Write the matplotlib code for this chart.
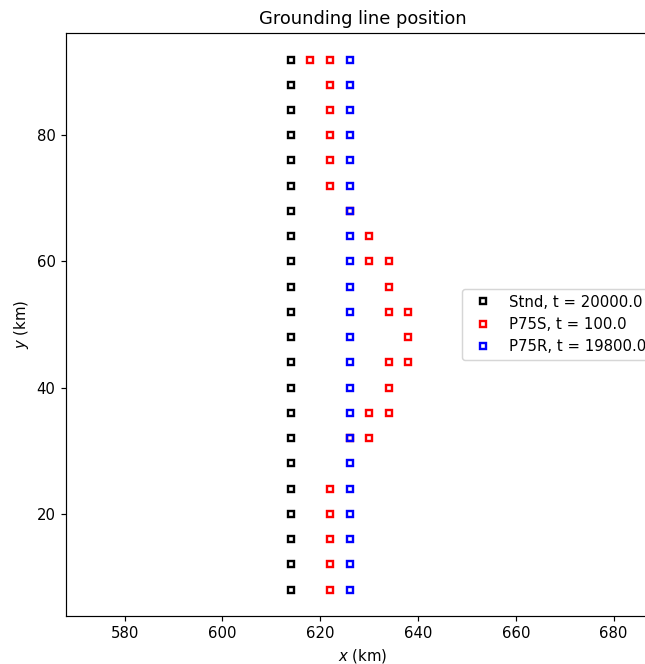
import matplotlib
matplotlib.use('Agg')
import matplotlib.pyplot as plt

# Grounding line points (km)
stnd_y = [92, 88, 84, 80, 76, 72, 68, 64, 60, 56, 52, 48, 44, 40, 36, 32, 28, 24, 20, 16, 12, 8]
stnd_x = [614, 614, 614, 614, 614, 614, 614, 614, 614, 614, 614,
          614, 614, 614, 614, 614, 614, 614, 614, 614, 614, 614]

p75s_x = [618, 622, 622, 622, 622, 622, 622, 626, 630, 630, 634, 634, 634, 638,
          638, 634, 638, 634, 630, 634, 626, 630, 622, 622, 622, 622, 622]
p75s_y = [92, 92, 88, 84, 80, 76, 72, 68, 64, 60, 60, 56, 52, 52,
          48, 44, 44, 40, 36, 36, 32, 32, 24, 20, 16, 12, 8]

p75r_y = [92, 88, 84, 80, 76, 72, 68, 64, 60, 56, 52, 48, 44, 40, 36, 32, 28, 24, 20, 16, 12, 8]
p75r_x = [626, 626, 626, 626, 626, 626, 626, 626, 626, 626, 626,
          626, 626, 626, 626, 626, 626, 626, 626, 626, 626, 626]

labels = ['Stnd, t = 20000.0', 'P75S, t = 100.0', 'P75R, t = 19800.0']

DPI = 107
fig = plt.figure(figsize=(645 / DPI, 664 / DPI), dpi=DPI)
# axes runs past the right edge of the picture, as in the reference crop
ax = fig.add_axes([66 / 645, 48 / 664, 594 / 645, 583 / 664])

style = dict(linestyle='none', marker='s', markersize=3.4, fillstyle='none', markeredgewidth=1.6)
ax.plot(stnd_x, stnd_y, color='black', label=labels[0], **style)
ax.plot(p75s_x, p75s_y, color='red', label=labels[1], **style)
ax.plot(p75r_x, p75r_y, color='blue', label=labels[2], **style)

ax.set_xlim(568, 689.5)
ax.set_xticks([580, 600, 620, 640, 660, 680])
ax.set_yticks([20, 40, 60, 80])
ax.set_xlabel('$x$ (km)')
ax.set_ylabel('$y$ (km)')
ax.set_title('Grounding line position')
ax.legend(loc='center right')

fig.savefig('out.png', dpi=DPI)
